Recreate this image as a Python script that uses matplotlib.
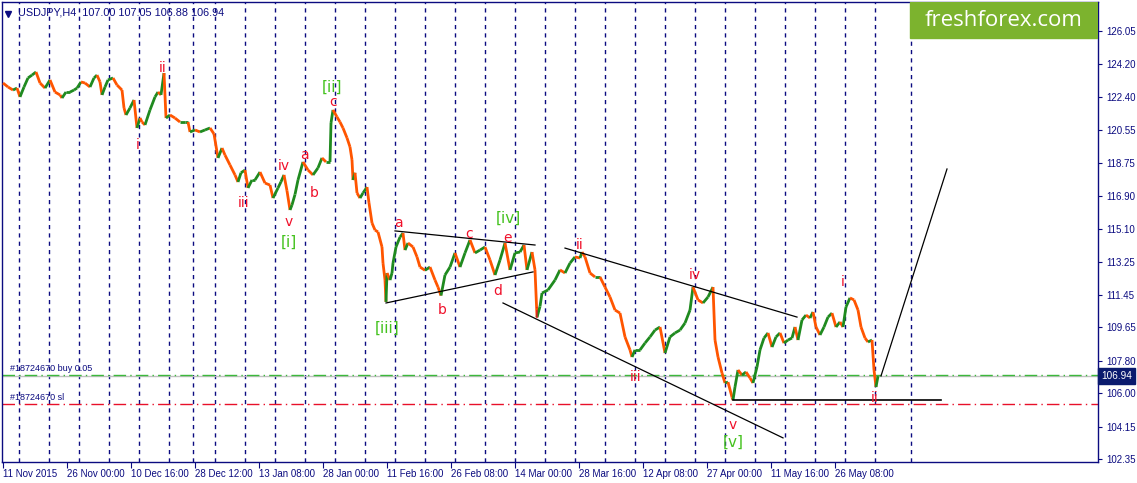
#!/usr/bin/env python3
"""
USDJPY H4 con conteggio delle onde (stile MT4), ricostruito a mano.
Salva out.png (1137x483).
"""

import matplotlib
matplotlib.use("Agg")
import matplotlib.pyplot as plt
from matplotlib.collections import LineCollection
from matplotlib.patches import Rectangle

# --- dati -------------------------------------------------------------------
# indice della barra H4 (0 = 11 Nov 2015 00:00) e prezzo di chiusura campionato
bar_idx = [
    0, 5, 10, 14, 17, 21, 25, 29, 33, 37, 42, 47, 52, 57, 59, 63, 67, 71, 74,
    78, 82, 87, 91, 94, 97, 99, 102, 105, 110, 114, 119, 121, 123, 127, 131,
    134, 137, 139, 142, 147, 152, 155, 158, 161, 163, 167, 172, 177, 182, 185,
    187, 192, 197, 202, 207, 211, 215, 219, 222, 227, 232, 235, 238, 242, 245,
    249, 252, 257, 262, 267, 270, 275, 278, 281, 284, 287, 289, 292, 295, 300,
    305, 310, 315, 319, 323, 327, 328, 330, 334, 337, 340, 344, 347, 349, 350,
    352, 354, 357, 360, 364, 366, 369, 372, 375, 379, 380, 382, 383, 384, 387,
    389, 390, 393, 397, 400, 402, 405, 410, 414, 417, 422, 427, 432, 435, 438,
    442, 447, 452, 457, 462, 467, 472, 477, 482, 487, 492, 497, 502, 507, 512,
    517, 521, 524, 529, 532, 534, 537, 539, 545, 552, 557, 562, 567, 572, 577,
    579, 582, 587, 592, 597, 602, 607, 612, 617, 622, 627, 629, 632, 637, 642,
    647, 652, 657, 662, 667, 672, 677, 682, 687, 690, 695, 700, 705, 710, 712,
    715, 719, 722, 725, 729, 730, 732, 735, 739, 743, 747, 750, 754, 757, 761,
    765, 769, 773, 777, 781, 785, 789, 792, 795, 799, 803, 807, 810, 813, 817,
    821, 825, 829, 833, 837, 840, 843, 847, 851, 855, 858, 862, 865, 869, 871,
    873, 875,
]
close = [
    123.17, 122.95, 122.78, 122.89, 122.40, 122.95, 123.45, 123.61, 123.78,
    123.17, 122.89, 123.34, 122.67, 122.51, 122.34, 122.67, 122.67, 122.78,
    122.89, 123.23, 123.17, 122.95, 123.45, 123.61, 123.23, 122.51, 122.95,
    123.34, 123.45, 123.06, 122.78, 121.79, 121.40, 121.79, 122.23, 120.68,
    121.23, 121.01, 120.85, 121.68, 122.40, 122.67, 122.51, 123.72, 121.23,
    121.40, 121.23, 121.01, 121.01, 121.01, 120.46, 120.57, 120.46, 120.57,
    120.68, 120.35, 119.02, 119.57, 119.18, 118.63, 118.08, 117.69, 118.20,
    118.35, 117.36, 117.80, 117.80, 118.24, 117.63, 117.52, 116.80, 117.36,
    117.70, 118.08, 117.20, 116.14, 116.42, 117.00, 117.80, 118.80, 118.35,
    118.08, 118.47, 119.02, 118.80, 118.80, 120.96, 121.68, 121.29, 121.01,
    120.68, 120.13, 119.63, 118.91, 117.80, 118.20, 117.08, 116.80, 117.08,
    117.41, 116.53, 115.42, 115.03, 114.92, 114.09, 113.20, 112.26, 111.05,
    112.65, 112.26, 112.65, 113.20, 114.09, 114.64, 114.86, 113.92, 114.31,
    114.09, 113.54, 112.98, 112.80, 112.98, 112.26, 111.87, 111.40, 112.54,
    112.98, 113.76, 112.98, 113.76, 114.48, 113.76, 113.92, 114.09, 113.37,
    112.54, 113.37, 114.31, 112.82, 113.76, 113.81, 114.20, 112.82, 113.81,
    112.82, 110.20, 110.80, 111.54, 111.71, 112.26, 112.82, 112.65, 113.20,
    113.54, 113.48, 113.81, 113.54, 112.65, 112.43, 112.43, 111.87, 111.32,
    110.60, 110.43, 109.11, 108.39, 108.00, 108.39, 108.39, 108.77, 109.11,
    109.49, 109.66, 108.22, 109.11, 109.33, 109.49, 109.88, 110.60, 111.87,
    111.16, 110.99, 111.32, 111.87, 108.94, 108.00, 107.11, 106.56, 106.61,
    105.78, 105.62, 106.34, 107.28, 107.00, 107.17, 106.84, 106.56, 107.45,
    108.39, 109.05, 109.33, 108.55, 109.11, 109.33, 108.77, 108.94, 109.05,
    109.66, 108.94, 110.05, 110.32, 110.16, 110.49, 109.66, 109.22, 109.66,
    110.21, 110.43, 109.66, 109.94, 109.66, 110.77, 111.27, 111.16, 110.60,
    109.66, 109.05, 108.83, 108.94, 107.28, 106.34, 106.94,
]

ohlc_header = "USDJPY,H4  107.00 107.05 106.88 106.94"
bid = 106.94
buy_price = 107.00
sl_price = 105.37
support = 105.60

# etichette asse tempo (una ogni 64 barre) e separatori settimanali
time_ticks = [0, 64, 128, 192, 256, 320, 384, 448, 512, 576, 640, 704, 768, 832]
time_labels = ["11 Nov 2015", "26 Nov 00:00", "10 Dec 16:00", "28 Dec 12:00",
               "13 Jan 08:00", "28 Jan 00:00", "11 Feb 16:00", "26 Feb 08:00",
               "14 Mar 00:00", "28 Mar 16:00", "12 Apr 08:00", "27 Apr 00:00",
               "11 May 16:00", "26 May 08:00"]
week_bars = [16, 46, 76, 106, 136, 166, 190, 212, 242, 272, 302, 332, 362,
             392, 422, 452, 482, 512, 542, 572, 602, 632, 662, 692, 722, 752,
             782, 812, 842, 872, 908]
price_ticks = [126.05, 124.20, 122.40, 120.55, 118.75, 116.90, 115.10,
               113.25, 111.45, 109.65, 107.80, 106.00, 104.15, 102.35]

# linee di tendenza: (barra0, prezzo0, barra1, prezzo1)
trend_lines = [
    (392, 114.98, 532, 114.20),   # triangolo, lato alto
    (383, 110.99, 530, 112.71),   # triangolo, lato basso
    (500, 110.99, 780, 103.52),   # canale, lato basso
    (562, 114.03, 794, 110.21),   # canale, lato alto
    (878, 106.95, 944, 118.41),   # proiezione
]

# conteggio onde: (barra, prezzo, testo, livello)
waves = [
    (160, 124.00, "ii", "minor"), (135, 119.74, "i", "minor"),
    (241, 116.53, "iii", "minor"), (281, 118.58, "iv", "minor"),
    (286, 115.47, "v", "minor"), (286, 114.37, "[i]", "major"),
    (301, 119.18, "a", "minor"), (311, 117.08, "b", "minor"),
    (329, 122.95, "[ii]", "major"), (330, 122.12, "c", "minor"),
    (395, 115.42, "a", "minor"), (384, 109.60, "[iii]", "major"),
    (439, 110.60, "b", "minor"), (466, 114.81, "c", "minor"),
    (505, 115.70, "[iv]", "major"), (504, 114.59, "e", "minor"),
    (495, 111.65, "d", "minor"), (534, 110.38, "i", "minor"),
    (577, 114.20, "ii", "minor"), (633, 106.90, "iii", "minor"),
    (692, 112.54, "iv", "minor"), (730, 104.23, "v", "minor"),
    (730, 103.29, "[v]", "major"), (840, 112.15, "i", "minor"),
    (872, 105.73, "ii", "minor"),
]

# --- disegno -----------------------------------------------------------------
NAVY = "#0b0b80"
UP, DOWN = "#1f8a1f", "#ff5500"
FONT = ["Liberation Sans", "DejaVu Sans"]

plt.rcParams["font.family"] = FONT

fig = plt.figure(figsize=(11.37, 4.83), dpi=100)
ax = fig.add_axes([2 / 1137, 21 / 483, 1096 / 1137, 460 / 483])
ax.set_xlim(-1, 1095)
ax.set_ylim(102.185, 127.656)

for b in week_bars:
    ax.axvline(b, color=NAVY, lw=1, ls=(0, (3, 3)), zorder=1)

# serie prezzi: segmento verde se sale, arancio se scende
segs, cols = [], []
for i in range(1, len(close)):
    segs.append([(bar_idx[i - 1], close[i - 1]), (bar_idx[i], close[i])])
    cols.append(UP if close[i] >= close[i - 1] else DOWN)
ax.add_collection(LineCollection(segs, colors=cols, linewidths=2.0, zorder=3))

for x0, y0, x1, y1 in trend_lines:
    ax.plot([x0, x1], [y0, y1], color="black", lw=0.9, zorder=4)
ax.plot([730, 938], [support, support], color="black", lw=1.2, zorder=4)

# livelli dell'ordine
ax.axhline(bid, color="#c0c0c0", lw=1, zorder=2)
ax.axhline(buy_price, color="#3cb83c", lw=1, ls=(0, (9, 3, 1, 3)), zorder=2)
ax.axhline(sl_price, color="#e8102a", lw=1, ls=(0, (9, 3, 1, 3)), zorder=2)
ax.text(7, buy_price + 0.12, "#18724670 buy 0.05", fontsize=6.5, color=NAVY,
        va="bottom", zorder=5)
ax.text(7, sl_price + 0.12, "#18724670 sl", fontsize=6.5, color=NAVY,
        va="bottom", zorder=5)

for b, p, txt, lvl in waves:
    if lvl == "major":
        ax.text(b, p, txt, color="#44c21e", fontsize=11, ha="center",
                va="center", family="DejaVu Sans", zorder=6)
    else:
        ax.text(b, p, txt, color="#f0102a", fontsize=10, ha="center",
                va="center", family="DejaVu Sans", zorder=6)

# intestazione e logo
ax.plot([0.0055], [0.975], marker="v", color=NAVY, ms=5,
        transform=ax.transAxes, clip_on=False)
ax.text(0.0145, 0.977, ohlc_header, transform=ax.transAxes, fontsize=7.8,
        color=NAVY, va="center", ha="left")
ax.add_patch(Rectangle((908 / 1096, 424 / 460), 187 / 1096, 36 / 460,
                       transform=ax.transAxes, color="#7cb32e", zorder=7))
ax.text((908 + 93.5) / 1096, 442 / 460, "freshforex.com",
        transform=ax.transAxes, color="white", fontsize=16, family="Open Sans",
        ha="center", va="center", zorder=8)

# assi stile MT4
for s in ax.spines.values():
    s.set_color(NAVY)
    s.set_linewidth(1)
ax.yaxis.tick_right()
ax.set_yticks(price_ticks)
ax.set_yticklabels([f"{v:.2f}" for v in price_ticks])
ax.tick_params(axis="y", direction="out", length=3, color=NAVY,
               labelcolor=NAVY, labelsize=7, pad=3)
ax.set_xticks(time_ticks)
ax.set_xticklabels(time_labels, ha="left")
ax.tick_params(axis="x", direction="out", length=4, color=NAVY,
               labelcolor=NAVY, labelsize=7, pad=1)

ax.annotate(f"{bid:.2f}", xy=(1.0, bid), xycoords=("axes fraction", "data"),
            xytext=(2, 0), textcoords="offset points", fontsize=7.2,
            color="white", va="center", ha="left", annotation_clip=False,
            bbox=dict(boxstyle="square,pad=0.3", fc="#0a1a6e", ec="#0a1a6e"))

fig.savefig("out.png", dpi=100)
plt.close(fig)
